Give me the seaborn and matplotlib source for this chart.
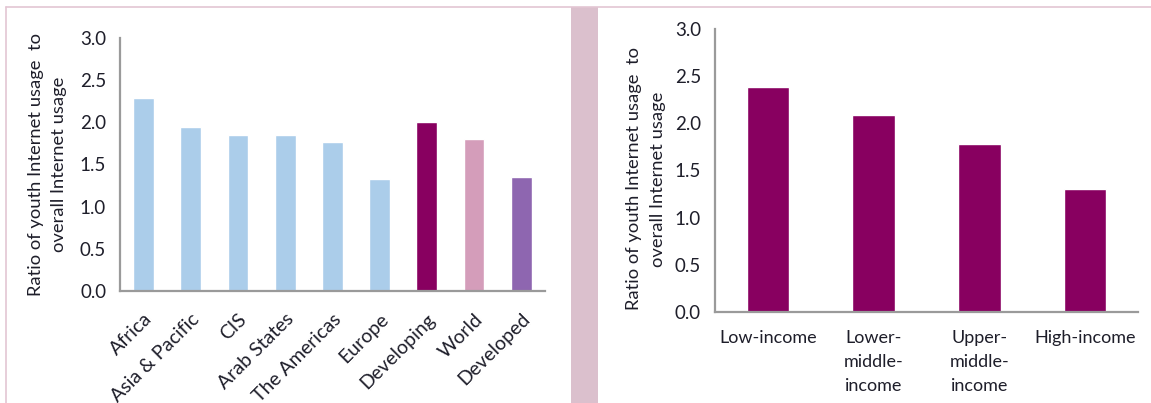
import matplotlib
matplotlib.use("Agg")
import matplotlib.pyplot as plt
from matplotlib.patches import Rectangle
from matplotlib.lines import Line2D
import seaborn as sns
import pandas as pd
import numpy as np

# Youth / overall Internet usage ratio by region and development status
regions = ["Africa", "Asia & Pacific", "CIS", "Arab States", "The Americas",
           "Europe", "Developing", "World", "Developed"]
region_ratio = [2.29, 1.94, 1.85, 1.85, 1.77, 1.33, 2.00, 1.80, 1.35]
region_colors = ["#ABCDEA", "#ABCDEA", "#ABCDEA", "#ABCDEA", "#ABCDEA",
                 "#ABCDEA", "#880060", "#D49DBA", "#8E66B0"]

# Same ratio by income group
income_groups = ["Low-income", "Lower-\nmiddle-\nincome", "Upper-\nmiddle-\nincome", "High-income"]
income_ratio = [2.38, 2.09, 1.78, 1.30]
income_color = "#880060"

y_ticks = [0.0, 0.5, 1.0, 1.5, 2.0, 2.5, 3.0]
y_label = "Ratio of youth Internet usage  to\noverall Internet usage"

sns.set_style("white")
plt.rcParams["font.family"] = ["Lato", "DejaVu Sans"]

AXIS_GREY = "#9A9A9A"
TEXT = "#1E1E2A"

fig = plt.figure(figsize=(11.51, 4.03), dpi=100)

ax1 = fig.add_axes([0.1043, 0.278, 0.369, 0.628])
ax2 = fig.add_axes([0.6212, 0.226, 0.3675, 0.702])

df_r = pd.DataFrame({"region": regions, "ratio": region_ratio})
sns.barplot(data=df_r, x="region", y="ratio", hue="region", palette=region_colors,
            width=0.44, legend=False, ax=ax1, saturation=1)

df_i = pd.DataFrame({"group": income_groups, "ratio": income_ratio})
sns.barplot(data=df_i, x="group", y="ratio", color=income_color,
            width=0.40, ax=ax2, saturation=1)


def style_axis(ax, n, xsize):
    ax.set_ylim(0, 3.0)
    ax.set_xlim(-0.5, n - 0.5)
    ax.set_yticks(y_ticks)
    ax.set_yticklabels([f"{t:.1f}" for t in y_ticks])
    for side in ("top", "right"):
        ax.spines[side].set_visible(False)
    for side in ("left", "bottom"):
        ax.spines[side].set_color(AXIS_GREY)
        ax.spines[side].set_linewidth(1.6)
    # category boundaries carry the tick marks
    ax.set_xticks(np.arange(-0.5, n, 1.0), minor=True)
    ax.tick_params(axis="x", which="minor", length=6, width=1.6,
                   color=AXIS_GREY, direction="out")
    ax.tick_params(axis="x", which="major", length=0, labelsize=xsize,
                   labelcolor=TEXT)
    ax.tick_params(axis="y", length=6, width=1.6, color=AXIS_GREY,
                   direction="out", labelsize=13.5, labelcolor=TEXT, pad=4)
    ax.set_xlabel("")
    ax.set_ylabel(y_label, fontsize=13.2, color=TEXT, linespacing=1.55)
    ax.yaxis.label.set_va("center")
    ax.yaxis.label.set_ha("center")


style_axis(ax1, len(regions), 14)
style_axis(ax2, len(income_groups), 13)

ax1.yaxis.set_label_coords(-0.17, 0.5)
ax2.yaxis.set_label_coords(-0.163, 0.47)

for lab in ax1.get_xticklabels():
    lab.set_rotation(45)
    lab.set_ha("right")
    lab.set_va("top")
    lab.set_rotation_mode("anchor")
ax1.tick_params(axis="x", which="major", pad=14)

for lab in ax2.get_xticklabels():
    lab.set_ha("center")
    lab.set_linespacing(1.6)
ax2.tick_params(axis="x", which="major", pad=13)

# panel frame and separator band
W, H = 1151, 403
band = Rectangle((571 / W, 0), 27 / W, 1 - 7 / H, transform=fig.transFigure,
                 facecolor="#DBC0CD", edgecolor="none", zorder=0)
fig.patches.append(band)
fig.lines.append(Line2D([6 / W, 1], [1 - 7 / H, 1 - 7 / H], transform=fig.transFigure,
                        color="#E3C6D3", linewidth=1.2))
fig.lines.append(Line2D([6 / W, 6 / W], [0, 1 - 7 / H], transform=fig.transFigure,
                        color="#E3C6D3", linewidth=1.2))

fig.savefig("out.png", dpi=100)
